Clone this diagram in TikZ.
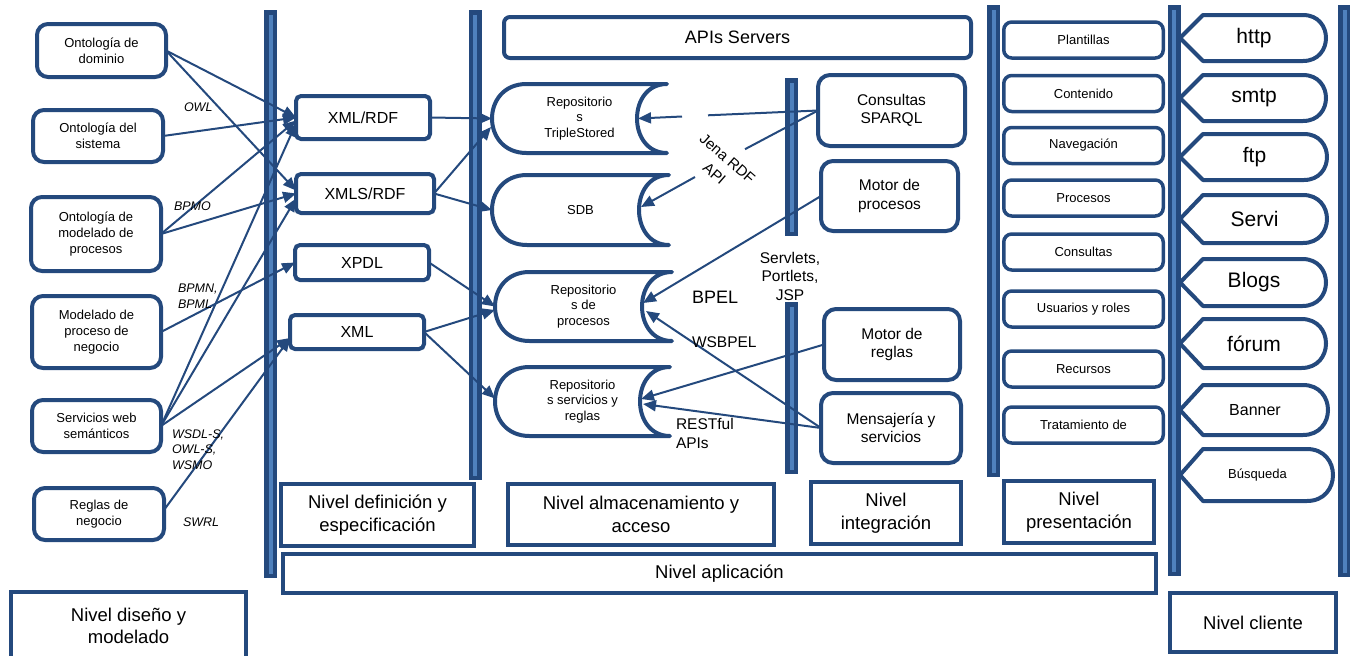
\documentclass[tikz,border=0pt]{standalone}
\usepackage{fontspec}
\setmainfont{Liberation Sans}
\usetikzlibrary{arrows.meta}
\definecolor{dblue}{RGB}{36,73,125}
\definecolor{lblue}{RGB}{79,129,189}
\newcommand\vbar[3]{\draw[dblue, line width=4.5pt, fill=lblue] (#1-4.25,#2+2.25) rectangle (#1+4.25,#3-2.25);}
\newcommand\repo[6]{%
  \draw[base, line join=round] ({#2+(#5-#3)/2},#3) -- (#4,#3) .. controls (#4-40,#3) and (#4-40,#5) .. (#4,#5) -- ({#2+(#5-#3)/2},#5) .. controls ({#2-(#5-#3)/6},#5) and ({#2-(#5-#3)/6},#3) .. ({#2+(#5-#3)/2},#3) -- cycle;
  \node[font=\fontsize{13}{15.7}\selectfont, minimum width={#4-#2}, minimum height={#5-#3}] (#1) at ({(#2+#4)/2},{(#3+#5)/2}) {#6};
}
\newcommand\ctag[6]{%
  \draw[base, line join=round] (1180,{(#2+#3)/2}) -- (1203,#2+2) -- ({#4-2-(#3-#2-4)/2},#2+2) .. controls ({#4-2-(#3-#2-4)/2+(#3-#2-4)*2/3},#2+2) and ({#4-2-(#3-#2-4)/2+(#3-#2-4)*2/3},#3-2) .. ({#4-2-(#3-#2-4)/2},#3-2) -- (1203,#3-2) -- cycle;
  \node[font=\fontsize{#6}{#6}\selectfont] (#1) at ({(1180+#4)/2},{(#2+#3)/2}) {#5};
}
\begin{document}
\begin{tikzpicture}[x=1pt,y=-1pt,
  every node/.style={inner sep=0pt, outer sep=0pt, align=center, text=black},
  base/.style={draw=dblue, line width=4pt, fill=white},
  obox/.style={base, rounded corners=11pt, font=\fontsize{13}{16}\selectfont},
  xbox/.style={base, rounded corners=5pt, font=\fontsize{16}{19}\selectfont},
  pbox/.style={base, line width=3.5pt, rounded corners=8pt, font=\fontsize{13}{16}\selectfont},
  ibox/.style={base, rounded corners=12pt, font=\fontsize{15.5}{18.5}\selectfont},
  nbox/.style={base, font=\fontsize{18.5}{22.5}\selectfont},
  line/.style={draw=dblue, line width=2pt},
  conn/.style={line, -{Triangle[length=13pt,width=11pt]}},
  lab/.style={font=\fontsize{12.5}{15.5}\selectfont\itshape, anchor=west, align=left},
  rlab/.style={font=\fontsize{15.5}{18.5}\selectfont},
]
\useasboundingbox (0,0) rectangle (1350,656);

% vertical bars
\vbar{270.5}{10}{578}
\vbar{475}{10}{480}
\vbar{791.5}{78}{236}
\vbar{791.5}{302}{474}
\vbar{993.5}{5}{477}
\vbar{1174}{5}{576}
\vbar{1344.5}{5}{577}

% design level boxes
\node[obox, minimum width=129, minimum height=53] (dom) at (101.5,50.5) {Ontología de\\dominio};
\node[obox, minimum width=130, minimum height=52] (sis) at (98,136) {Ontología del\\sistema};
\node[obox, minimum width=130, minimum height=74] (omp) at (96,234) {Ontología de\\modelado de\\procesos};
\node[obox, minimum width=129, minimum height=72] (mpn) at (96.5,332) {Modelado de\\proceso de\\negocio};
\node[obox, minimum width=129, minimum height=52] (sws) at (96.5,426) {Servicios web\\semánticos};
\node[obox, minimum width=130, minimum height=52] (reg) at (99,514) {Reglas de\\negocio};

% definition level
\node[xbox, minimum width=134, minimum height=43] (xr) at (363,117.5) {XML/RDF};
\node[xbox, minimum width=138, minimum height=39] (xs) at (365,193.5) {XMLS/RDF};
\node[xbox, minimum width=134, minimum height=35] (xp) at (362,262.5) {XPDL};
\node[xbox, minimum width=134, minimum height=34] (xm) at (357,332) {XML};

% storage
\node[base, rounded corners=6pt, minimum width=467, minimum height=41, font=\fontsize{18}{21}\selectfont] (api) at (737.5,37.5) {APIs Servers};
\repo{r1}{492}{84}{667}{153}{Repositorio\\s\\TripleStored}
\repo{r2}{492}{175}{669}{245}{SDB}
\repo{r3}{495}{272}{672}{341}{Repositorio\\s de\\procesos}
\repo{r4}{495}{367}{670}{436}{Repositorio\\s servicios y\\reglas}
\coordinate (r1w) at (491,127);
\coordinate (r1in) at (638,118.5);
\coordinate (r2in) at (641,207);
\coordinate (r3a) at (643,303);
\coordinate (r3b) at (646,311);
\coordinate (r4a) at (641,399);
\coordinate (r4b) at (643,404);

% integration
\node[ibox, minimum width=147, minimum height=71] (cs) at (891.5,110.5) {Consultas\\SPARQL};
\node[ibox, minimum width=137, minimum height=70] (mp) at (889.5,196) {Motor de\\procesos};
\node[ibox, minimum width=136, minimum height=71] (mr) at (892,344.5) {Motor de\\reglas};
\node[ibox, minimum width=140, minimum height=70] (ms) at (891,428) {Mensajería y\\servicios};

% presentation
\foreach \t/\y/\n in {Plantillas/40/p1, Contenido/93.5/p2, Navegación/145.5/p3, Procesos/198/p4, Consultas/252/p5, Usuarios y roles/309/p6, Recursos/369/p7, Tratamiento de/425/p8}
  \node[pbox, minimum width=159.5, minimum height=36] (\n) at (1083.5,\y) {\t};

% client
\ctag{http}{13}{63}{1328}{http}{21}
\ctag{smtp}{73}{123}{1328}{smtp}{21}
\ctag{ftp}{132}{182}{1329}{ftp}{21}
\ctag{servi}{193}{245}{1329}{Servi}{21}
\ctag{blogs}{257}{308}{1328}{Blogs}{21}
\ctag{forum}{317}{370}{1328}{fórum}{21}
\ctag{banner}{383}{437}{1330}{Banner}{16}
\ctag{busq}{447}{503}{1335}{Búsqueda}{13}

% level boxes
\node[nbox, minimum width=193, minimum height=62] (nd) at (377.5,515) {Nivel definición y\\especificación};
\node[nbox, minimum width=266, minimum height=61] (na) at (641,514.5) {Nivel almacenamiento y\\acceso};
\node[nbox, minimum width=150, minimum height=62] (ni) at (886,513) {Nivel\\integración};
\node[nbox, minimum width=150, minimum height=62] (np) at (1079,512) {Nivel\\presentación};
\node[nbox, minimum width=873, minimum height=39] (nap) at (719.5,573.5) {Nivel aplicación};
\node[nbox, minimum width=235, minimum height=68] (ndm) at (128.5,626) {Nivel diseño y\\modelado};
\node[nbox, minimum width=166, minimum height=59] (nc) at (1253,622.5) {Nivel cliente};

% connectors design -> definition
\draw[conn] (dom.east) -- (xr.west);
\draw[conn] (dom.east) -- ([yshift=3pt]xs.west);
\draw[conn] (sis.east) -- (xr.west);
\draw[conn] (omp.east) -- ([yshift=-3pt]xr.west);
\draw[conn] (omp.east) -- (xs.west);
\draw[conn] (mpn.east) -- (xp.west);
\draw[conn] (sws.east) -- ([yshift=-6pt]xr.west);
\draw[conn] (sws.east) -- ([yshift=-5pt]xs.west);
\draw[conn] (sws.east) -- ([yshift=-6pt]xm.west);
\draw[conn] ([yshift=4pt]reg.east) -- ([yshift=-6pt]xm.west);

% definition -> storage
\draw[conn] (xr.east) -- (r1.west);
\draw[conn] (xs.east) -- (r1w);
\draw[conn] (xs.east) -- (r2.west);
\draw[conn] (xp.east) -- (r3.west);
\draw[conn] (xm.east) -- ([yshift=-3.5pt]r3.west);
\draw[conn] (xm.east) -- ([yshift=3pt]r4.west);

% integration -> storage (interrupted by the Jena label)
\coordinate (j1a) at (708,115.3);
\coordinate (j1b) at (682,116.5);
\coordinate (j2a) at (745,149.2);
\coordinate (j2b) at (695,177);
\draw[line] (cs.west) -- (j1a);
\draw[conn] (j1b) -- (r1in);
\draw[line] (cs.west) -- (j2a);
\draw[conn] (j2b) -- (r2in);
\draw[conn] (mp.west) -- (r3a);
\draw[conn] (ms.west) -- (r3b);
\draw[conn] (mr.west) -- (r4a);
\draw[conn] (ms.west) -- (r4b);

% labels
\node[rotate=-41, font=\fontsize{15}{20}\selectfont] (jena) at (721,166) {Jena RDF\\API};
\node[lab] (owl) at (184,107) {OWL};
\node[lab] (bpmo) at (174,206) {BPMO};
\node[lab] (bpmn) at (178,296) {BPMN,\\BPML};
\node[lab] (wsdl) at (172,449.5) {WSDL-S,\\OWL-S,\\WSMO};
\node[lab] (swrl) at (183,522) {SWRL};
\node[font=\fontsize{18}{21}\selectfont, anchor=west] (bpel) at (692,297) {BPEL};
\node[rlab, anchor=west] (wsbpel) at (692,342) {WSBPEL};
\node[rlab, anchor=west, align=left] (rest) at (676,433.5) {RESTful\\APIs};
\node[rlab] (servlets) at (790,276) {Servlets,\\Portlets,\\JSP};
\end{tikzpicture}
\end{document}
